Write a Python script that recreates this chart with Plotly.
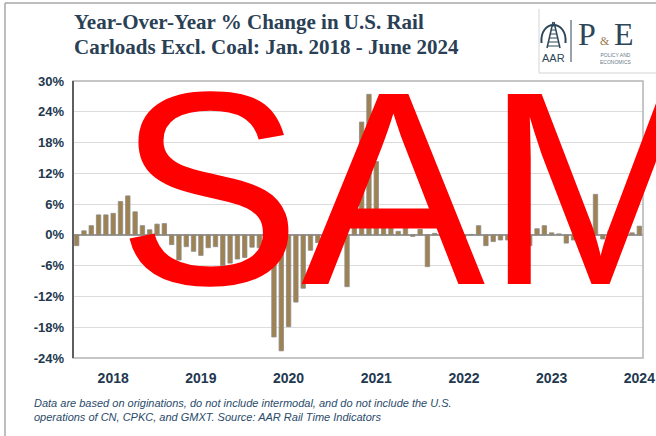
import plotly.graph_objects as go

# Monthly year-over-year % change, U.S. rail carloads excluding coal
years = ["2018", "2019", "2020", "2021", "2022", "2023", "2024"]
pct_2018 = [-2.1, 0.8, 1.8, 3.9, 3.9, 4.2, 6.5, 7.6, 4.5, 1.8, 1.0, 2.1]
pct_2019 = [2.2, -1.9, -4.9, -2.3, -3.2, -4.0, -2.5, -2.3, -6.0, -5.5, -4.7, -4.4]
pct_2020 = [-2.4, -2.5, -4.5, -19.9, -22.6, -17.9, -13.1, -10.4, -3.0, -1.5, -0.8, 0.5]
pct_2021 = [-1.5, -10.1, 3.0, 22.0, 27.4, 14.3, 3.5, 2.0, 0.7, 1.5, -0.3, 1.1]
pct_2022 = [-6.2, 0.3, 0.5, -0.3, -0.5, -0.3, 0.1, 1.8, -2.1, -1.3, -1.0, -1.0]
pct_2023 = [-0.5, 0.8, -2.1, 1.2, 1.8, 0.4, 0.2, -1.6, -1.0, 0.5, -0.5, 7.9]
pct_2024 = [-0.8, 0.8, 1.0, 2.1, 0.4, 1.7]

y_ticks = [-24, -18, -12, -6, 0, 6, 12, 18, 24, 30]

values = pct_2018 + pct_2019 + pct_2020 + pct_2021 + pct_2022 + pct_2023 + pct_2024
months = list(range(len(values)))
year_ticks = [5 + 12 * i for i in range(len(years))]

W, H = 656, 436
L, R, T, B = 73, 13, 81, 78
PW, PH = W - L - R, H - T - B


def px(x):
    return (x - L) / PW


def py(y):
    return (H - B - y) / PH


NAVY = "#22384f"
LOGO = "#2d4658"

fig = go.Figure(
    go.Bar(
        x=months,
        y=values,
        marker=dict(color="#a08250", line=dict(color="#8a8a8a", width=0.8)),
        hoverinfo="skip",
    )
)

fig.update_layout(
    width=W,
    height=H,
    margin=dict(l=L, r=R, t=T, b=B),
    paper_bgcolor="white",
    plot_bgcolor="white",
    bargap=0.4,
    showlegend=False,
)

fig.update_xaxes(
    range=[-0.5, len(values) - 0.5],
    automargin=False,
    tickmode="array",
    tickvals=year_ticks,
    ticktext=years,
    showgrid=False,
    zeroline=False,
    showline=False,
    ticks="",
    ticklabelstandoff=10,
    tickfont=dict(family="Liberation Sans", size=14, color=NAVY, weight="bold"),
)

fig.update_yaxes(
    range=[-24, 30],
    automargin=False,
    tickmode="array",
    tickvals=y_ticks,
    ticktext=[f"{v}%" for v in y_ticks],
    showgrid=True,
    gridcolor="#dcdcdc",
    gridwidth=1,
    zeroline=True,
    zerolinecolor="#9a9a9a",
    zerolinewidth=1.5,
    showline=False,
    ticks="",
    ticklabelstandoff=8,
    tickfont=dict(family="Liberation Sans", size=13, color=NAVY, weight="bold"),
)

shapes = []
# plot frame: light border with a darker value axis on the left
shapes.append(dict(type="rect", xref="paper", yref="paper", x0=0, x1=1, y0=0, y1=1,
                   line=dict(color="#b4b4b4", width=1.5), layer="above"))
shapes.append(dict(type="line", xref="paper", yref="paper", x0=0, x1=0, y0=0, y1=1,
                   line=dict(color="#5f5f5f", width=2), layer="above"))
# outer slide frame
shapes.append(dict(type="line", xref="paper", yref="paper", x0=px(5), x1=px(656), y0=py(3), y1=py(3),
                   line=dict(color="#a8a8a8", width=1.5)))
shapes.append(dict(type="line", xref="paper", yref="paper", x0=px(5), x1=px(5), y0=py(3), y1=py(436),
                   line=dict(color="#a8a8a8", width=1.5)))
# logo box
shapes.append(dict(type="line", xref="paper", yref="paper", x0=px(539), x1=px(539), y0=py(9), y1=py(73),
                   line=dict(color="#d4d4d4", width=1)))
shapes.append(dict(type="line", xref="paper", yref="paper", x0=px(539), x1=px(656), y0=py(73), y1=py(73),
                   line=dict(color="#d4d4d4", width=1)))
# AAR emblem: arch with converging rails and ties
cx, cy, r = 553.5, 33, 12
shapes.append(dict(type="path", xref="paper", yref="paper",
                   path=f"M {px(cx - r)},{py(cy + 10)} "
                        f"C {px(cx - r - 2)},{py(cy - 14)} {px(cx + r + 2)},{py(cy - 14)} {px(cx + r)},{py(cy + 10)}",
                   line=dict(color=LOGO, width=2)))
shapes.append(dict(type="line", xref="paper", yref="paper", x0=px(547), x1=px(553), y0=py(48), y1=py(22),
                   line=dict(color=LOGO, width=1.5)))
shapes.append(dict(type="line", xref="paper", yref="paper", x0=px(560), x1=px(554), y0=py(48), y1=py(22),
                   line=dict(color=LOGO, width=1.5)))
for k in range(6):
    yy = 26 + k * 4
    half = 1.5 + k * 1.0
    shapes.append(dict(type="line", xref="paper", yref="paper",
                       x0=px(553.5 - half), x1=px(553.5 + half), y0=py(yy), y1=py(yy),
                       line=dict(color=LOGO, width=1)))
shapes.append(dict(type="line", xref="paper", yref="paper", x0=px(571), x1=px(571), y0=py(20), y1=py(62),
                   line=dict(color=LOGO, width=1)))

annotations = []
title_lines = ["Year-Over-Year % Change in U.S. Rail", "Carloads Excl. Coal: Jan. 2018 - June 2024"]
for line, yc in zip(title_lines, [22, 47]):
    annotations.append(dict(
        xref="paper", yref="paper", x=px(72), y=py(yc), xanchor="left", yanchor="middle", align="left",
        text=f"<b>{line}</b>", showarrow=False,
        font=dict(family="Liberation Serif", size=21, color="#2a4055")))
annotations.append(dict(
    xref="paper", yref="paper", x=px(32), y=py(395), xanchor="left", yanchor="top", align="left",
    text="<i>Data are based on originations, do not include intermodal, and do not include the U.S.<br>"
         "operations of CN, CPKC, and GMXT. Source: AAR Rail Time Indicators</i>",
    showarrow=False, font=dict(family="Liberation Sans", size=11, color="#2a4a6a")))
annotations.append(dict(
    xref="paper", yref="paper", x=px(553.5), y=py(58), xanchor="center", yanchor="middle",
    text="AAR", showarrow=False, font=dict(family="Liberation Sans", size=11, color=LOGO)))
annotations.append(dict(
    xref="paper", yref="paper", x=px(587), y=py(34), xanchor="center", yanchor="middle",
    text="P", showarrow=False, font=dict(family="Liberation Serif", size=32, color=LOGO)))
annotations.append(dict(
    xref="paper", yref="paper", x=px(624), y=py(34), xanchor="center", yanchor="middle",
    text="E", showarrow=False, font=dict(family="Liberation Serif", size=32, color=LOGO)))
annotations.append(dict(
    xref="paper", yref="paper", x=px(605), y=py(41), xanchor="center", yanchor="middle",
    text="&", showarrow=False, font=dict(family="Liberation Serif", size=12, color="#9a7a50")))
annotations.append(dict(
    xref="paper", yref="paper", x=px(616), y=py(58.5), xanchor="center", yanchor="middle",
    text="POLICY AND<br>ECONOMICS", showarrow=False,
    font=dict(family="Liberation Sans", size=5, color="#6a7a88")))
# sample watermark over the chart
annotations.append(dict(
    xref="paper", yref="paper", x=px(115), y=py(188), xanchor="left", yanchor="middle",
    text="SAMPLE", showarrow=False,
    font=dict(family="Liberation Sans", size=276, color="#ff0000")))

fig.update_layout(shapes=shapes, annotations=annotations)

fig.write_html("out.html")
